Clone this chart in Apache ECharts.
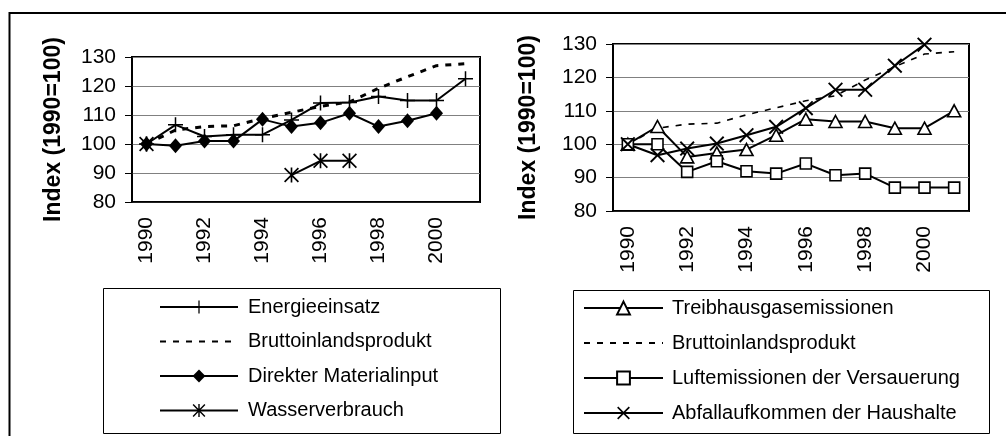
<!DOCTYPE html>
<html>
<head>
<meta charset="utf-8">
<script src="https://cdn.jsdelivr.net/npm/echarts@6/dist/echarts.min.js"></script>
<style>
  html, body { margin: 0; padding: 0; background: #fff; }
  #chart { width: 1006px; height: 436px; }
</style>
</head>
<body>
<div id="chart"></div>
<script>
// data (index, 1990 = 100)
var years = ['1990', '1991', '1992', '1993', '1994', '1995', '1996', '1997', '1998', '1999', '2000', '2001'];
var yTicks = [80, 90, 100, 110, 120, 130];

var energie = [100, 106.6, 102.6, 103.2, 103.2, 108.3, 114.1, 114.3, 116.4, 115, 115, 122.5];
var bip = [100, 104.8, 106, 106.3, 108.8, 110.9, 113, 114.5, 119.2, 123.2, 127, 127.7];
var material = [100, 99.4, 101, 101, 108.5, 106, 107.3, 110.6, 106, 108, 110.6, null];
var wasser = [100, null, null, null, null, 89.3, 94.2, 94.2, null, null, null, null];

var treibhaus = [100, 105.3, 96.2, 97.4, 98.4, 102.7, 107.5, 106.8, 106.8, 104.8, 104.8, 110];
var luft = [100, 100, 91.7, 94.9, 91.9, 91.2, 94.2, 90.7, 91.2, 87, 87, 87];
var abfall = [100, 96.7, 98.7, 100.2, 102.7, 105.2, 110.8, 116.3, 116.3, 123.5, 129.8, null];

var FONT = 'Liberation Sans, Arial, sans-serif';
var plusPath = 'path://M6.3,0H7.7V6.3H14V7.7H7.7V14H6.3V7.7H0V6.3H6.3Z';
var crossPath = 'path://M0,0.9L0.9,0L5,4.1L9.1,0L10,0.9L5.9,5L10,9.1L9.1,10L5,5.9L0.9,10L0,9.1L4.1,5Z';
var starPath = 'path://M0,0.8L0.8,0L5,4.2L9.2,0L10,0.8L5.8,5L10,9.2L9.2,10L5,5.8L0.8,10L0,9.2L4.2,5ZM4.45,0H5.55V10H4.45Z';

var chart = echarts.init(document.getElementById('chart'));

function xAxis(grid) {
	return {
		type : 'category',
		gridIndex : grid,
		data : years,
		boundaryGap : true,
		axisLine : { lineStyle : { color : '#000', width : 1.5 } },
		axisTick : { interval : 0, length : 6, lineStyle : { color : '#000', width : 1 } },
		axisLabel : { interval : 1, rotate : 90, margin : 15, color : '#000', fontSize : 21, fontFamily : FONT }
	};
}
function yAxis(grid, gap) {
	return {
		type : 'value',
		gridIndex : grid,
		min : yTicks[0],
		max : yTicks[yTicks.length - 1],
		interval : 10,
		name : 'Index (1990=100)',
		nameLocation : 'middle',
		nameGap : gap,
		nameTextStyle : { color : '#000', fontSize : 23, fontWeight : 'bold', fontFamily : FONT },
		axisLine : { show : true, lineStyle : { color : '#000', width : 1.5 } },
		axisTick : { show : true, length : 7, lineStyle : { color : '#000', width : 1 } },
		axisLabel : { margin : 16, color : '#000', fontSize : 21, fontFamily : FONT },
		splitLine : { lineStyle : { color : '#808080', width : 1 } }
	};
}
function line(name, data, axis, symbol, size, itemStyle, lineStyle) {
	return {
		name : name,
		type : 'line',
		xAxisIndex : axis,
		yAxisIndex : axis,
		data : data,
		symbol : symbol,
		symbolSize : size,
		showSymbol : symbol !== 'none',
		connectNulls : false,
		itemStyle : itemStyle || { color : '#000', borderWidth : 0 },
		lineStyle : lineStyle || { color : '#000', width : 2 },
		emphasis : { disabled : true }
	};
}
var hollow = { color : '#fff', borderColor : '#000', borderWidth : 1.6 };
var legendText = { color : '#000', fontSize : 20, fontFamily : FONT, lineHeight : 20 };

var option = {
	animation : false,
	backgroundColor : '#fff',
	grid : [ {
		left : 132, top : 57, width : 348, height : 145,
		show : true, borderColor : '#000', borderWidth : 2, outerBoundsMode : 'none'
	}, {
		left : 613, top : 44, width : 356, height : 167,
		show : true, borderColor : '#000', borderWidth : 2, outerBoundsMode : 'none'
	} ],
	xAxis : [ xAxis(0), xAxis(1) ],
	yAxis : [ yAxis(0, 67), yAxis(1, 73) ],
	legend : [ {
		orient : 'vertical', left : 159, top : 297,
		itemWidth : 78, itemHeight : 16, itemGap : 14.5,
		padding : 0, selectedMode : false,
		textStyle : Object.assign({ padding : [ 0, 0, 0, 5 ] }, legendText),
		data : [ 'Energieeinsatz', { name : 'Bruttoinlandsprodukt', itemStyle : { opacity : 0 } },
				'Direkter Materialinput', 'Wasserverbrauch' ]
	}, {
		orient : 'vertical', left : 583, top : 298,
		itemWidth : 79, itemHeight : 16, itemGap : 15,
		padding : 0, selectedMode : false,
		textStyle : Object.assign({ padding : [ 0, 0, 0, 4 ] }, legendText),
		data : [ 'Treibhausgasemissionen', { name : 'Bruttoinlandsprodukt ', itemStyle : { opacity : 0 } },
				'Luftemissionen der Versauerung', 'Abfallaufkommen der Haushalte' ]
	} ],
	series : [
		line('Energieeinsatz', energie, 0, plusPath, 15),
		line('Bruttoinlandsprodukt', bip, 0, 'none', 0, { color : 'transparent' },
				{ color : '#000', width : 3, type : [ 6, 7 ] }),
		line('Direkter Materialinput', material, 0, 'diamond', [ 13, 15 ]),
		line('Wasserverbrauch', wasser, 0, starPath, 15),
		line('Treibhausgasemissionen', treibhaus, 1, 'triangle', [ 13, 12 ], hollow),
		line('Bruttoinlandsprodukt ', bip, 1, 'none', 0, { color : 'transparent' },
				{ color : '#000', width : 1.6, type : [ 6, 7 ] }),
		line('Luftemissionen der Versauerung', luft, 1, 'rect', 11, hollow),
		line('Abfallaufkommen der Haushalte', abfall, 1, crossPath, 15)
	],
	graphic : [
		{ type : 'polyline', silent : true, shape : { points : [ [ 9.5, 436 ], [ 9.5, 13 ], [ 1006, 13 ] ] },
			style : { stroke : '#000', lineWidth : 2, fill : null } },
		{ type : 'rect', silent : true, shape : { x : 103.5, y : 288.5, width : 397, height : 145 },
			style : { stroke : '#000', lineWidth : 1, fill : null } },
		{ type : 'rect', silent : true, shape : { x : 573.5, y : 290.5, width : 416, height : 143 },
			style : { stroke : '#000', lineWidth : 1, fill : null } }
	]
};
chart.setOption(option);
</script>
</body>
</html>
